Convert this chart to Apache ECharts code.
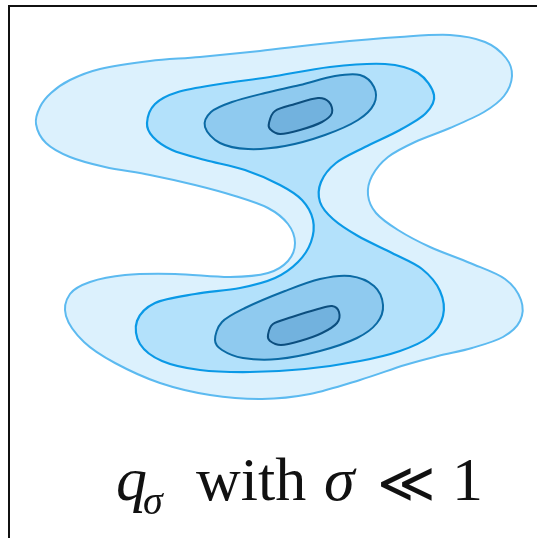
<!DOCTYPE html>
<html>
<head>
<meta charset="utf-8">
<style>
  html, body { margin: 0; padding: 0; background: #ffffff; }
  #chart { width: 537px; height: 538px; }
</style>
<script src="https://cdn.jsdelivr.net/npm/echarts@6/dist/echarts.min.js"></script>
</head>
<body>
<div id="chart"></div>
<script>
// Density level sets of q_sigma, outermost first. Points are [x, y] in plot units
// (y grows downward on this plot).
const level1 = [
  [36,124],[40,107],[51,93],[70,80],[100,69],[150,61],[200,57],[260,51],[330,43],[400,37],
  [450,35],[485,42],[506,58],[512,76],[504,96],[484,112],[450,128],[415,142],[388,157],
  [372,176],[368,195],[376,213],[398,230],[430,247],[470,263],[505,279],[521,300],[520,321],
  [503,337],[472,348],[438,356],[405,365],[360,380],[310,394],[262,399],[210,395],[160,383],
  [115,363],[84,342],[66,316],[70,294],[90,282],[125,275],[175,274],[230,277],[268,273],
  [288,261],[295,243],[288,224],[268,208],[235,196],[195,185],[150,175],[105,167],[70,157],
  [46,143]
];
const level2 = [
  [147,123],[155,104],[178,92],[220,84],[270,77],[330,67],[385,64],[418,73],[434,95],[426,113],
  [400,130],[365,147],[336,163],[321,182],[320,202],[333,219],[358,236],[392,253],[422,269],
  [440,291],[443,316],[429,337],[400,351],[360,361],[305,369],[250,372],[200,370],[162,361],
  [140,344],[137,321],[155,303],[195,294],[240,288],[275,278],[298,262],[311,242],[313,220],
  [302,200],[280,185],[245,170],[205,160],[172,150],[153,137]
];
const level3Top = [
  [205,127],[211,112],[232,102],[265,93],[300,85],[335,76],[360,75],[374,87],[374,104],
  [358,120],[325,135],[285,146],[248,149],[220,143]
];
const level3Bottom = [
  [215,340],[222,322],[245,308],[285,291],[320,279],[350,276],[374,286],[383,305],[377,323],
  [357,338],[320,351],[278,359],[243,358],[222,350]
];
const level4Top = [
  [269,123],[275,111],[295,104],[318,98],[329,102],[332,113],[322,122],[300,130],[280,134],
  [270,129]
];
const level4Bottom = [
  [268,335],[273,324],[292,317],[318,309],[332,306],[339,312],[337,323],[322,333],[300,341],
  [281,345],[270,341]
];

const contours = [level1, level2, level3Top, level3Bottom, level4Top, level4Bottom];
const levelOf = [0, 1, 2, 2, 3, 3];
const fills = ['#dcf1fd', '#b3e1fb', '#8fcaef', '#72b2de'];
const strokes = ['#5cbaf0', '#0a99e6', '#0b6aa4', '#0c4e7e'];
const widths = [2, 2.2, 2, 2];

// Closed Catmull-Rom curve through the given pixel points, as SVG path data.
function closedCurvePath(pts) {
  const n = pts.length;
  const f = (v) => v.toFixed(2);
  let d = 'M' + f(pts[0][0]) + ' ' + f(pts[0][1]);
  for (let i = 0; i < n; i++) {
    const p0 = pts[(i - 1 + n) % n];
    const p1 = pts[i];
    const p2 = pts[(i + 1) % n];
    const p3 = pts[(i + 2) % n];
    const c1 = [p1[0] + (p2[0] - p0[0]) / 6, p1[1] + (p2[1] - p0[1]) / 6];
    const c2 = [p2[0] - (p3[0] - p1[0]) / 6, p2[1] - (p3[1] - p1[1]) / 6];
    d += 'C' + f(c1[0]) + ' ' + f(c1[1]) + ' ' + f(c2[0]) + ' ' + f(c2[1]) + ' ' + f(p2[0]) + ' ' + f(p2[1]);
  }
  return d + 'Z';
}

const chart = echarts.init(document.getElementById('chart'), null, { renderer: 'canvas' });

const serif = '"Liberation Serif", "DejaVu Serif", serif';

chart.setOption({
  animation: false,
  backgroundColor: '#ffffff',
  grid: { left: 0, right: 0, top: 0, bottom: 0 },
  xAxis: { type: 'value', min: 0, max: 537, show: false },
  yAxis: { type: 'value', min: 0, max: 538, inverse: true, show: false },
  series: [{
    type: 'custom',
    coordinateSystem: 'cartesian2d',
    data: contours.map((c, i) => [c[0][0], c[0][1], i]),
    encode: { x: 0, y: 1 },
    renderItem: function (params, api) {
      const idx = params.dataIndex;
      const lv = levelOf[idx];
      const pts = contours[idx].map(p => api.coord(p));
      return {
        type: 'path',
        shape: { pathData: closedCurvePath(pts) },
        style: {
          fill: fills[lv],
          stroke: strokes[lv],
          lineWidth: widths[lv]
        }
      };
    }
  }],
  graphic: [
    {
      type: 'rect',
      shape: { x: 9, y: 6, width: 620, height: 620 },
      style: { fill: null, stroke: '#111111', lineWidth: 2 },
      z: 10
    },
    {
      type: 'text', x: 116, y: 515,
      style: { text: 'q', font: 'italic 62px ' + serif, fill: '#111', verticalAlign: 'bottom' }
    },
    {
      type: 'text', x: 143, y: 523,
      style: { text: 'σ', font: 'italic 40px ' + serif, fill: '#111', verticalAlign: 'bottom' }
    },
    {
      type: 'text', x: 196, y: 515,
      style: { text: 'with', font: '62px ' + serif, fill: '#111', verticalAlign: 'bottom' }
    },
    {
      type: 'text', x: 324, y: 515,
      style: { text: 'σ', font: 'italic 62px ' + serif, fill: '#111', verticalAlign: 'bottom' }
    },
    {
      type: 'text', x: 377, y: 515,
      style: { text: '≪', font: '56px "DejaVu Serif", serif', fill: '#111', verticalAlign: 'bottom' }
    },
    {
      type: 'text', x: 452, y: 515,
      style: { text: '1', font: '62px ' + serif, fill: '#111', verticalAlign: 'bottom' }
    }
  ]
});
</script>
</body>
</html>
